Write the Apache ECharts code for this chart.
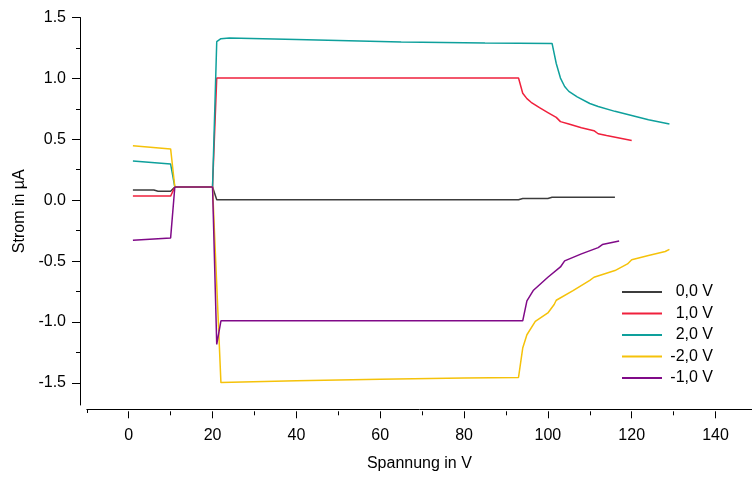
<!DOCTYPE html>
<html>
<head>
<meta charset="utf-8">
<script src="https://cdn.jsdelivr.net/npm/echarts@6/dist/echarts.min.js"></script>
<style>html,body{margin:0;padding:0;background:#fff}#c{width:752px;height:477px}</style>
</head>
<body>
<div id="c"></div>
<script>
// Data: [Spannung (V), Strom (µA)]
const seriesNames = ['0,0 V', '1,0 V', '2,0 V', '-2,0 V', '-1,0 V'];
const s0V = [[1,0.075],[6,0.075],[7,0.065],[10,0.065],[11,0.1],[20,0.1],[21,-0.005],[93,-0.005],[94,0.005],[100,0.005],[101,0.015],[116,0.015]];
const s1V = [[1,0.025],[10,0.025],[11,0.1],[20,0.1],[21,1.0],[93,1.0],[94,0.875],[95,0.83],[96,0.8],[98,0.755],[100,0.715],[102,0.675],[103,0.64],[105,0.62],[108,0.59],[111,0.565],[112,0.54],[114,0.525],[117,0.505],[120,0.485]];
const s2V = [[1,0.315],[10,0.29],[11,0.1],[20,0.1],[21,1.3],[22,1.325],[24,1.33],[40,1.318],[65,1.297],[85,1.29],[101,1.286],[102,1.12],[103,1.0],[104,0.93],[105,0.89],[107,0.845],[110,0.79],[112,0.765],[116,0.725],[120,0.69],[124,0.655],[129,0.62]];
const sm2V = [[1,0.44],[10,0.415],[11,0.1],[20,0.1],[22,-1.515],[40,-1.5],[60,-1.488],[80,-1.478],[93,-1.472],[94,-1.23],[95,-1.12],[97,-1.01],[100,-0.94],[101.5,-0.87],[102,-0.835],[106,-0.755],[110,-0.67],[111,-0.645],[116,-0.59],[119,-0.535],[120,-0.5],[124,-0.465],[128,-0.432],[129,-0.415]];
const sm1V = [[1,-0.34],[10,-0.32],[11,0.1],[20,0.1],[21,-1.2],[22,-1.005],[94,-1.005],[95,-0.84],[96.5,-0.755],[100,-0.645],[103,-0.56],[104,-0.51],[108,-0.452],[112,-0.4],[113,-0.375],[117,-0.345]];
// Axis ranges and tick steps
const xRange = [-10, 148.7];
const xLabelStart = 0, xStep = 20;
const yRange = [-1.7, 1.5];
const yLabelStart = -1.5, yStep = 0.5;

const colors = ['#3c3c3c', '#f0203c', '#0ea09c', '#f5c20a', '#800a88'];
const datasets = [s0V, s1V, s2V, sm2V, sm1V];
const FONT = 'Liberation Sans, Arial, sans-serif';

// layout
const L = 86.8, T = 17.5, H = 389.8;
const pxPerX = 4.192, pxPerY = 121.8;
const L1 = L + (xLabelStart - xRange[0]) * pxPerX;
const H1 = (yRange[1] - yLabelStart) * pxPerY;
const xAxisY = T + H + 4, yAxisX = 80;

const chart = echarts.init(document.getElementById('c'), null, {renderer: 'canvas'});
const ls = {color: '#000', width: 1};
const txt = {fontSize: 16, color: '#000', fontFamily: FONT};
chart.setOption({
  animation: false,
  backgroundColor: '#fff',
  grid: [
    {left: L, top: T, right: 0, height: H},
    {left: L1, top: T, right: 0, height: H1}
  ],
  xAxis: [{
    gridIndex: 0, type: 'value', min: xRange[0], max: xRange[1], interval: 200, position: 'bottom', offset: 4,
    axisLine: {show: true, onZero: false, lineStyle: ls},
    axisTick: {show: true, length: 4, lineStyle: ls},
    axisLabel: {show: false},
    splitLine: {show: false},
    name: 'Spannung in V', nameLocation: 'middle', nameGap: 47,
    nameTextStyle: txt
  }, {
    gridIndex: 1, type: 'value', min: xLabelStart, max: xRange[1], interval: xStep, position: 'bottom',
    offset: xAxisY - (T + H1),
    axisLine: {show: false, onZero: false},
    axisTick: {show: true, length: 7, lineStyle: ls},
    minorTick: {show: true, splitNumber: 2, length: 4, lineStyle: ls},
    axisLabel: Object.assign({show: true, margin: 16, showMaxLabel: false}, txt),
    splitLine: {show: false}, minorSplitLine: {show: false}
  }],
  yAxis: [{
    gridIndex: 0, type: 'value', min: yRange[0], max: yRange[1], position: 'left', offset: L - yAxisX,
    axisLine: {show: true, onZero: false, lineStyle: ls},
    axisTick: {show: false},
    axisLabel: {show: false},
    splitLine: {show: false},
    name: 'Strom in µA', nameLocation: 'middle', nameGap: 52, nameRotate: 90,
    nameTextStyle: txt
  }, {
    gridIndex: 1, type: 'value', min: yLabelStart, max: yRange[1], interval: yStep, position: 'left',
    offset: L1 - yAxisX,
    axisLine: {show: false, onZero: false},
    axisTick: {show: true, length: 8, lineStyle: ls},
    minorTick: {show: true, splitNumber: 2, length: 4, lineStyle: ls},
    axisLabel: Object.assign({show: true, margin: 14, formatter: v => v.toFixed(1)}, txt),
    splitLine: {show: false}, minorSplitLine: {show: false}
  }],
  legend: {
    orient: 'vertical', left: 617, top: 279,
    data: seriesNames,
    icon: 'rect', itemWidth: 40, itemHeight: 2, itemGap: 5.5,
    formatter: name => '{r|' + name + '}',
    textStyle: {fontSize: 16, color: '#000', fontFamily: FONT, lineHeight: 16, padding: [0, 0, 0, 3],
      rich: {r: {width: 43, align: 'right', fontSize: 16, fontFamily: FONT, color: '#000', lineHeight: 16}}}
  },
  series: datasets.map((d, i) => ({
    name: seriesNames[i], type: 'line', data: d, xAxisIndex: 0, yAxisIndex: 0,
    showSymbol: false, symbol: 'none', smooth: false,
    lineStyle: {color: colors[i], width: 1.5}, itemStyle: {color: colors[i]}
  }))
});
</script>
</body>
</html>
